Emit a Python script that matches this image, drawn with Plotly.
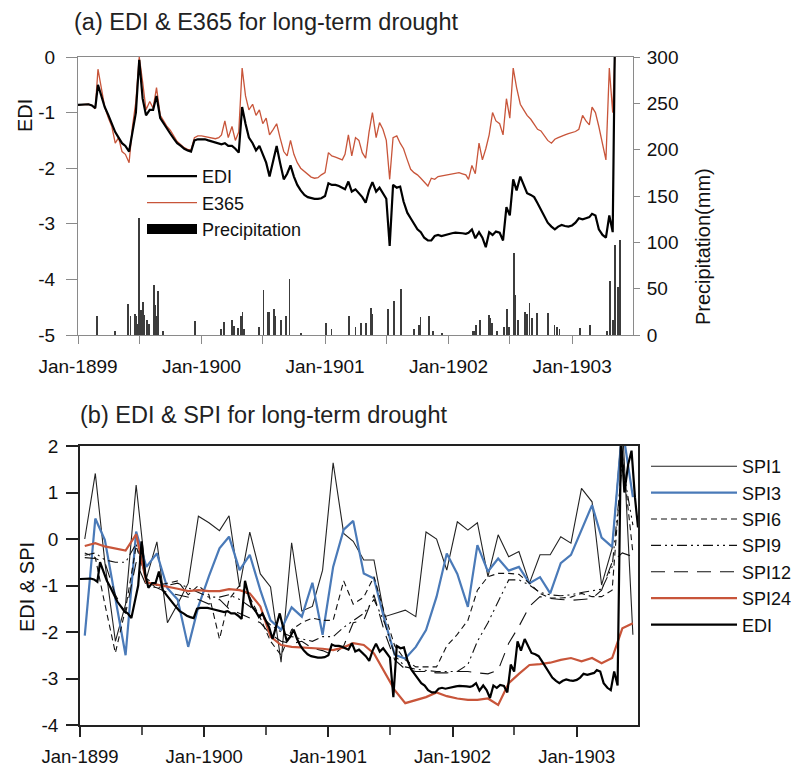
import plotly.graph_objects as go

# ---------------- data ----------------
# dekad grid (1st, 11th, 21st of every month, Jan-1899 .. Jun-1903) + last day
dekad_dates = [f"{1899 + i // 12}-{i % 12 + 1:02d}-{d:02d}" for i in range(54) for d in (1, 11, 21)] + ["1903-06-30"]
month_dates = [f"{1899 + i // 12}-{i % 12 + 1:02d}-15" for i in range(54)]

EDI = [
    -0.86, -0.86, -0.85, -0.85, -0.87, -0.92, -0.50, -0.70, -0.90, -1.05, -1.20, -1.35,
    -1.45, -1.55, -1.60, -1.70, -1.35, -1.00, -0.05, -0.75, -1.05, -0.95, -0.95, -0.70,
    -1.10, -1.20, -1.30, -1.38, -1.47, -1.55, -1.60, -1.65, -1.68, -1.70, -1.50, -1.48,
    -1.48, -1.48, -1.50, -1.52, -1.53, -1.55, -1.57, -1.55, -1.60, -1.60, -1.65, -1.72,
    -0.90, -1.20, -1.45, -1.55, -1.68, -1.60, -1.75, -1.90, -2.15, -1.85, -1.60, -1.90,
    -2.20, -2.10, -1.95, -2.15, -2.30, -2.40, -2.48, -2.52, -2.54, -2.55, -2.55, -2.54,
    -2.50, -2.27, -2.30, -2.30, -2.32, -2.36, -2.38, -2.24, -2.42, -2.38, -2.45, -2.52,
    -2.62, -2.40, -2.25, -2.42, -2.35, -2.45, -2.55, -3.40, -2.30, -2.35, -2.33, -2.60,
    -2.80, -2.90, -3.00, -3.10, -3.15, -3.25, -3.30, -3.30, -3.22, -3.20, -3.22, -3.20,
    -3.18, -3.17, -3.16, -3.16, -3.17, -3.18, -3.16, -3.10, -3.26, -3.15, -3.25, -3.42,
    -3.15, -3.20, -3.14, -3.16, -3.30, -2.70, -2.85, -2.20, -2.40, -2.15, -2.30, -2.45,
    -2.48, -2.52, -2.63, -2.75, -2.85, -2.98, -3.05, -3.10, -3.05, -3.02, -3.04, -3.05,
    -3.03, -2.98, -2.90, -2.92, -2.90, -2.88, -2.82, -2.85, -3.10, -3.20, -3.25, -2.85,
    -3.15, 2.20, 1.00, 1.60, 1.90, 0.90, 0.25,
]
E365 = [
    -0.86, -0.86, -0.85, -0.85, -0.87, -0.93, -0.22, -0.60, -0.90, -1.10, -1.25, -1.55,
    -1.45, -1.70, -1.75, -1.90, -1.25, -0.80, 0.00, -0.45, -0.95, -0.80, -0.92, -0.55,
    -1.05, -1.15, -1.25, -1.32, -1.42, -1.52, -1.58, -1.63, -1.66, -1.67, -1.45, -1.42,
    -1.42, -1.43, -1.44, -1.46, -1.47, -1.45, -1.40, -1.15, -1.45, -1.25, -1.50, -1.35,
    -0.20, -0.70, -0.95, -0.85, -1.05, -0.95, -1.20, -1.10, -1.40, -1.30, -1.20, -1.45,
    -1.70, -1.78, -1.50, -1.75, -1.90, -2.00, -2.06, -2.12, -2.16, -2.18, -2.17, -2.12,
    -2.08, -1.72, -1.78, -1.80, -1.82, -1.85, -1.75, -1.40, -1.78, -1.45, -1.50, -1.72,
    -1.82, -1.35, -1.00, -1.45, -1.18, -1.30, -1.50, -2.20, -1.45, -1.42, -1.55, -1.65,
    -1.85, -2.02, -2.08, -2.12, -2.18, -2.25, -2.32, -2.18, -2.20, -2.15, -2.14, -2.12,
    -2.12, -2.10, -2.10, -2.08, -2.10, -2.12, -2.20, -1.95, -2.10, -1.55, -1.85, -1.65,
    -1.40, -1.00, -1.15, -1.20, -1.40, -0.75, -1.10, -0.20, -0.55, -0.85, -0.95, -1.05,
    -1.12, -1.20, -1.30, -1.33, -1.42, -1.50, -1.55, -1.48, -1.45, -1.42, -1.40, -1.38,
    -1.36, -1.34, -1.30, -1.05, -1.15, -1.22, -0.90, -1.00, -1.25, -1.55, -1.85, -0.20,
    -1.00, 0.60, 0.80, 0.90, 0.90, 0.90, 0.90,
]

precip_dates = [
    "1899-02-27", "1899-04-21", "1899-05-29", "1899-06-05", "1899-06-19", "1899-06-22", "1899-06-26",
    "1899-06-29", "1899-07-07", "1899-07-13", "1899-07-16", "1899-07-25", "1899-07-30", "1899-08-13",
    "1899-08-17", "1899-08-20", "1899-08-25", "1899-09-10", "1899-12-13", "1900-02-28", "1900-03-09",
    "1900-04-01", "1900-04-08", "1900-04-19", "1900-04-28", "1900-05-02", "1900-05-07", "1900-06-19",
    "1900-07-03", "1900-07-16", "1900-07-19", "1900-08-04", "1900-08-07", "1900-08-25", "1900-09-07",
    "1900-09-18", "1900-10-22", "1901-01-04", "1901-01-20", "1901-03-13", "1901-04-01", "1901-04-16",
    "1901-05-02", "1901-05-16", "1901-05-20", "1901-07-07", "1901-07-24", "1901-08-14", "1901-09-22",
    "1901-10-05", "1901-10-07", "1901-10-10", "1901-11-04", "1901-11-16", "1901-12-13", "1902-03-13",
    "1902-03-16", "1902-03-22", "1902-04-04", "1902-05-01", "1902-05-04", "1902-05-10", "1902-05-25",
    "1902-06-13", "1902-06-22", "1902-06-28", "1902-07-13", "1902-07-17", "1902-07-25", "1902-08-16",
    "1902-08-20", "1902-08-28", "1902-09-04", "1902-09-19", "1902-10-22", "1902-11-10", "1902-11-17",
    "1902-11-25", "1903-01-25", "1903-02-23", "1903-04-13", "1903-04-22", "1903-05-01", "1903-05-08",
    "1903-05-16", "1903-05-19", "1903-05-22",
]
precip_mm = [
    21, 4, 33, 20, 23, 20, 12,
    126, 27, 36, 22, 16, 12, 54,
    32, 20, 48, 4, 15, 6, 14,
    16, 10, 8, 20, 25, 7, 9,
    49, 25, 25, 28, 20, 16, 20,
    60, 2, 13, 6, 20, 9, 13,
    13, 29, 23, 28, 37, 50, 7,
    11, 10, 19, 21, 4, 2, 4,
    4, 11, 16, 22, 18, 13, 4,
    9, 28, 9, 89, 43, 16, 25,
    23, 34, 18, 24, 24, 11, 9,
    6, 8, 11, 4, 58, 16, 97,
    52, 16, 103,
]

SPI1 = [0.00, 1.41, -0.50, -2.20, -1.40, 1.16, -0.85, -0.06, -1.80, -1.40, -0.95, 0.49,
        0.35, 0.18, 0.50, -1.03, 0.15, -0.75, -1.03, -2.65, -0.08, -1.55, -1.45, -0.67,
        1.64, 0.12, -0.05, -0.45, -0.45, -1.67, -1.60, -1.53, -1.67, 0.15, 0.00, -0.67,
        0.37, 0.19, 0.35, -0.81, 0.09, -0.38, -0.27, -0.95, -0.34, -0.34, 0.05, -0.09,
        1.09, 0.80, -0.99, -0.20, 2.50, -2.06]
SPI3 = [-2.08, 0.44, -0.02, -1.30, -2.50, 0.16, -0.60, -0.31, -1.06, -1.30, -2.32, -1.45,
        -0.80, -0.20, 0.05, -0.67, -0.34, -1.10, -1.75, -1.95, -1.47, -1.67, -0.94, -2.06,
        -0.60, 0.20, 0.39, -0.74, -0.85, -1.74, -2.49, -2.57, -2.32, -1.96, -1.24, -0.31,
        -0.75, -1.46, -0.13, -0.70, -0.42, -0.68, -0.60, -0.95, -0.82, -1.17, -0.52, -0.34,
        0.19, 0.73, 0.03, -0.17, 2.40, 0.90]
SPI6 = [-0.30, -0.40, -1.40, -2.45, -1.50, -0.15, -0.85, -1.00, -0.95, -0.90, -1.20, -1.00,
        -1.20, -2.15, -1.30, -1.00, -1.25, -1.70, -2.20, -2.50, -1.95, -1.80, -1.70, -1.75,
        -1.75, -0.90, -1.40, -1.25, -0.81, -1.60, -2.30, -2.60, -2.75, -2.75, -2.75, -2.30,
        -2.05, -1.75, -1.10, -0.81, -0.74, -0.74, -0.76, -0.95, -1.17, -1.27, -1.27, -1.25,
        -1.17, -1.24, -1.24, -1.10, 1.80, -0.30]
SPI9 = [-0.35, -0.30, -0.45, -0.50, -0.50, -0.10, -0.90, -1.05, -1.00, -0.95, -1.05, -1.15,
        -1.25, -1.25, -1.20, -1.30, -1.45, -1.65, -1.85, -2.00, -2.10, -2.15, -2.20, -2.10,
        -2.10, -1.90, -1.75, -1.60, -1.30, -1.80, -2.50, -2.75, -2.80, -2.82, -2.85, -2.85,
        -2.85, -2.70, -2.20, -1.80, -1.35, -0.88, -0.88, -0.99, -1.15, -1.20, -1.22, -1.20,
        -1.15, -1.12, -1.08, -0.60, 1.60, 0.30]
SPI12 = [-0.40, -0.42, -0.50, -1.20, -1.60, -0.50, -1.00, -1.05, -1.15, -1.20, -1.25, -1.30,
         -1.40, -1.30, -1.50, -1.60, -1.70, -1.80, -2.05, -2.20, -2.25, -2.20, -2.35, -2.40,
         -2.50, -2.30, -1.80, -1.75, -1.20, -2.00, -2.60, -2.80, -2.85, -2.85, -2.88, -2.88,
         -2.85, -2.85, -2.88, -2.90, -2.82, -2.24, -1.88, -1.45, -1.24, -1.28, -1.30, -1.32,
         -1.30, -1.28, -1.10, -0.50, -0.30, -0.38]
SPI24 = [-0.15, -0.09, -0.16, -0.20, -0.25, 0.10, -0.93, -0.98, -1.02, -1.07, -1.12, -1.10,
         -1.12, -1.12, -1.08, -1.10, -1.17, -1.45, -2.10, -2.28, -2.32, -2.33, -2.34, -2.36,
         -2.39, -2.33, -2.24, -2.28, -2.46, -2.85, -3.25, -3.53, -3.47, -3.40, -3.30, -3.38,
         -3.43, -3.46, -3.46, -3.43, -3.57, -3.10, -2.90, -2.71, -2.69, -2.66, -2.60, -2.56,
         -2.63, -2.56, -2.67, -2.56, -1.92, -1.81]

year_ticks = ["1899-01-01", "1900-01-01", "1901-01-01", "1902-01-01", "1903-01-01"]
year_labels = ["Jan-1899", "Jan-1900", "Jan-1901", "Jan-1902", "Jan-1903"]
mid_ticks = ["1899-07-01", "1900-07-01", "1901-07-01", "1902-07-01", "1903-07-01"]

# ---------------- style ----------------
OFF = 8                      # page body margin of the browser
W, H = 801 - OFF, 768 - OFF
FONT = "Liberation Sans, Arial, sans-serif"
RED = "#c8553a"
BLUE = "#4a7ab8"
GRAY = "#8a8a8a"
TXT = "#111111"
XR = ["1899-01-01", "1903-06-30"]


def px(x):
    return (x - OFF) / W


def py(y):
    return 1 - (y - OFF) / H


fig = go.Figure()

# panel (a)
fig.add_trace(go.Bar(x=precip_dates, y=precip_mm, xaxis="x", yaxis="y2", width=2.6 * 86400000,
                     marker=dict(color="#3c3c3c", line=dict(width=0)), showlegend=False))
fig.add_trace(go.Scatter(x=dekad_dates, y=E365, xaxis="x", yaxis="y", mode="lines",
                         line=dict(color=RED, width=1.3), name="E365", legend="legend", legendrank=2))
fig.add_trace(go.Scatter(x=dekad_dates, y=EDI, xaxis="x", yaxis="y", mode="lines",
                         line=dict(color="black", width=2.2), name="EDI", legend="legend", legendrank=1))
fig.add_trace(go.Scatter(x=[None], y=[None], xaxis="x", yaxis="y", mode="lines",
                         line=dict(color="black", width=10), name="Precipitation", legend="legend", legendrank=3))

# panel (b)
spi_styles = [
    ("SPI1", SPI1, dict(color="#222222", width=1.1)),
    ("SPI3", SPI3, dict(color=BLUE, width=2.2)),
    ("SPI6", SPI6, dict(color="#111111", width=1.1, dash="6px,4px")),
    ("SPI9", SPI9, dict(color="#111111", width=1.1, dash="10px,4px,2px,4px,2px,4px")),
    ("SPI12", SPI12, dict(color="#111111", width=1.1, dash="14px,9px")),
    ("SPI24", SPI24, dict(color=RED, width=2.2)),
]
for i, (nm, vals, ln) in enumerate(spi_styles):
    fig.add_trace(go.Scatter(x=month_dates, y=vals, xaxis="x2", yaxis="y3", mode="lines",
                             line=ln, name=nm, legend="legend2", legendrank=i + 1))
fig.add_trace(go.Scatter(x=dekad_dates, y=EDI, xaxis="x2", yaxis="y3", mode="lines",
                         line=dict(color="black", width=2.2), name="EDI", legend="legend2", legendrank=7))

tickfont = dict(family=FONT, size=19, color=TXT)

fig.update_layout(
    template="none",
    width=W, height=H, autosize=False,
    margin=dict(l=0, r=0, t=0, b=0),
    paper_bgcolor="white", plot_bgcolor="rgba(0,0,0,0)",
    font=dict(family=FONT, size=19, color=TXT),
    bargap=0,
    xaxis=dict(domain=[px(78), px(633)], anchor="y", type="date", range=XR,
               tickmode="array", tickvals=year_ticks, ticktext=year_labels,
               ticks="outside", ticklen=8, tickcolor=GRAY, tickwidth=1,
               showline=True, linecolor=GRAY, linewidth=1, mirror=True,
               showgrid=False, zeroline=False, automargin=False, tickfont=tickfont,
               ticklabelstandoff=6,
               minor=dict(tickmode="array", tickvals=mid_ticks, ticks="outside", ticklen=8,
                          tickcolor=GRAY, showgrid=False)),
    yaxis=dict(domain=[py(335), py(57)], anchor="x", range=[-5, 0],
               tickmode="array", tickvals=[-5, -4, -3, -2, -1, 0],
               ticktext=["-5", "-4", "-3", "-2", "-1", "0"],
               ticks="outside", ticklen=11, tickcolor=GRAY, showline=True, linecolor=GRAY,
               showgrid=False, zeroline=False, automargin=False, tickfont=tickfont,
               ticklabelstandoff=7),
    yaxis2=dict(overlaying="y", anchor="x", side="right", range=[0, 300],
                tickmode="array", tickvals=[0, 50, 100, 150, 200, 250, 300],
                ticks="outside", ticklen=6, tickcolor=GRAY, showline=True, linecolor=GRAY,
                showgrid=False, zeroline=False, automargin=False, tickfont=tickfont,
                ticklabelstandoff=3),
    xaxis2=dict(domain=[px(80), px(638)], anchor="y3", type="date", range=XR,
                tickmode="array", tickvals=year_ticks, ticktext=year_labels,
                ticks="outside", ticklen=10, tickcolor="#222", tickwidth=1.5,
                showline=True, linecolor="#222", linewidth=1.5, mirror=True,
                showgrid=False, zeroline=False, automargin=False,
                tickfont=dict(family=FONT, size=18.5, color=TXT),
                ticklabelstandoff=4,
                minor=dict(tickmode="array", tickvals=mid_ticks, ticks="outside", ticklen=8,
                           tickcolor="#555", showgrid=False)),
    yaxis3=dict(domain=[py(725), py(446)], anchor="x2", range=[-4, 2],
                tickmode="array", tickvals=[-4, -3, -2, -1, 0, 1, 2],
                ticktext=["-4", "-3", "-2", "-1", "0", "1", "2"],
                ticks="outside", ticklen=12, tickcolor="#222", tickwidth=1.5,
                showline=True, linecolor="#222", linewidth=1.5, mirror=True,
                showgrid=False, zeroline=False, automargin=False, tickfont=tickfont,
                ticklabelstandoff=4),
    legend=dict(x=px(142), y=py(158), xanchor="left", yanchor="top", bgcolor="rgba(0,0,0,0)",
                font=dict(family=FONT, size=18, color=TXT), itemwidth=50, tracegroupgap=0,
                traceorder="normal"),
    legend2=dict(x=px(646), y=py(448), xanchor="left", yanchor="top", bgcolor="rgba(0,0,0,0)",
                 font=dict(family=FONT, size=18, color=TXT), itemwidth=86, tracegroupgap=0,
                 traceorder="normal", borderwidth=0),
    annotations=[
        dict(text="(a) EDI & E365 for long-term drought", x=px(72), y=py(22), xref="paper", yref="paper",
             xanchor="left", yanchor="middle", showarrow=False, font=dict(family=FONT, size=23.5, color="#222")),
        dict(text="(b) EDI & SPI for long-term drought", x=px(78), y=py(415), xref="paper", yref="paper",
             xanchor="left", yanchor="middle", showarrow=False, font=dict(family=FONT, size=23.5, color="#222")),
        dict(text="EDI", x=px(25), y=py(116), xref="paper", yref="paper", textangle=-90,
             xanchor="center", yanchor="middle", showarrow=False, font=dict(family=FONT, size=20, color=TXT)),
        dict(text="Precipitation(mm)", x=px(703), y=py(247), xref="paper", yref="paper", textangle=-90,
             xanchor="center", yanchor="middle", showarrow=False, font=dict(family=FONT, size=20, color=TXT)),
        dict(text="EDI & SPI", x=px(27), y=py(587), xref="paper", yref="paper", textangle=-90,
             xanchor="center", yanchor="middle", showarrow=False, font=dict(family=FONT, size=20, color=TXT)),
    ],
)

fig.write_html("out.html")
